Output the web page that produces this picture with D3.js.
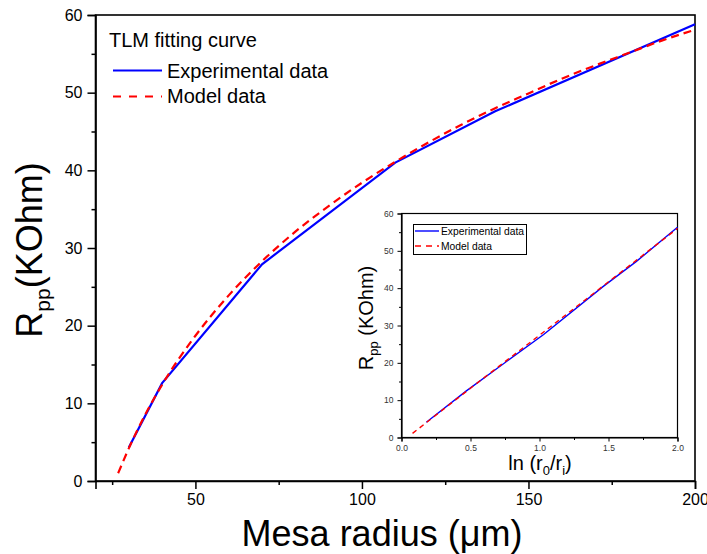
<!DOCTYPE html>
<html>
<head>
<meta charset="utf-8">
<script src="https://cdn.jsdelivr.net/npm/d3@7"></script>
<style>
  html, body { margin: 0; padding: 0; background: #fff; }
  svg { display: block; font-family: "Liberation Sans", Arial, sans-serif; }
</style>
</head>
<body>
<svg id="chart" width="707" height="554"></svg>
<script>
// ---------- Data ----------
// Main plot: experimental data (blue)
const expRadius = [30, 40, 70, 110, 140, 200];
const expRpp    = [4.3, 12.6, 27.9, 41.0, 47.6, 58.8];
// Main plot: model data (red dashed)
const modelRadius = [26.8, 30, 35, 40, 50, 60, 70, 80, 90, 100, 110, 120, 130, 140, 150, 160, 170, 180, 190, 200];
const modelRpp    = [1.0, 4.2, 8.6, 12.4, 18.7, 23.9, 28.3, 32.1, 35.4, 38.4, 41.1, 43.6, 45.9, 48.0, 49.9, 51.8, 53.5, 55.1, 56.7, 58.1];
// Inset: experimental vs ln(r0/ri)
const insetExpLn  = [0.18, 0.47, 1.03, 1.46, 1.70, 2.0];
const insetExpRpp = [4.1, 12.5, 27.6, 40.4, 47.1, 56.3];
// Inset: model
const insetModLn  = [0.08, 0.5, 1.0, 1.5, 2.0];
const insetModRpp = [1.1, 13.2, 27.4, 41.7, 56.0];
// Ticks
const mainXTicks = [50, 100, 150, 200];
const mainXMinor = [25, 75, 125, 175];
const mainYTicks = [0, 10, 20, 30, 40, 50, 60];
const mainYMinor = [5, 15, 25, 35, 45, 55];
const insetXTicks = [0, 0.5, 1.0, 1.5, 2.0];
const insetXMinor = [0.25, 0.75, 1.25, 1.75];
const insetYTicks = [0, 10, 20, 30, 40, 50, 60];
const insetYMinor = [5, 15, 25, 35, 45, 55];
// Labels
const legendTitle = "TLM fitting curve";
const seriesNames = ["Experimental data", "Model data"];

// ---------- Drawing ----------
const svg = d3.select("#chart");
const BLUE = "#0000ff", RED = "#ff0000";

function drawPanel(cfg) {
  const g = svg.append("g");
  const x = d3.scaleLinear().domain(cfg.xDomain).range([cfg.left, cfg.right]);
  const y = d3.scaleLinear().domain(cfg.yDomain).range([cfg.bottom, cfg.top]);

  // frame
  g.append("rect")
    .attr("x", cfg.left).attr("y", cfg.top)
    .attr("width", cfg.right - cfg.left).attr("height", cfg.bottom - cfg.top)
    .attr("fill", "none").attr("stroke", "#000").attr("stroke-width", cfg.frameW);

  // x axis
  const xa = g.append("g").attr("transform", `translate(0,${cfg.bottom})`)
    .call(d3.axisBottom(x).tickValues(cfg.xTicks).tickSize(cfg.majorLen)
      .tickPadding(cfg.xPad).tickFormat(cfg.xFmt));
  g.append("g").attr("transform", `translate(0,${cfg.bottom})`)
    .call(d3.axisBottom(x).tickValues(cfg.xMinor).tickSize(cfg.minorLen).tickFormat(""))
    .call(s => s.select(".domain").remove());
  // y axis
  const ya = g.append("g").attr("transform", `translate(${cfg.left},0)`)
    .call(d3.axisLeft(y).tickValues(cfg.yTicks).tickSize(cfg.majorLen)
      .tickPadding(cfg.yPad).tickFormat(d3.format("d")));
  g.append("g").attr("transform", `translate(${cfg.left},0)`)
    .call(d3.axisLeft(y).tickValues(cfg.yMinor).tickSize(cfg.minorLen).tickFormat(""))
    .call(s => s.select(".domain").remove());

  g.selectAll(".domain").attr("stroke-width", cfg.frameW);
  g.selectAll(".tick line").attr("stroke-width", cfg.tickW);
  g.selectAll(".tick text")
    .attr("font-family", '"Liberation Sans", Arial, sans-serif')
    .attr("font-size", cfg.tickFont).attr("fill", cfg.tickColor);

  const line = d3.line().x(d => x(d[0])).y(d => y(d[1]));
  const lineSmooth = d3.line().x(d => x(d[0])).y(d => y(d[1])).curve(d3.curveMonotoneX);

  g.append("path").datum(d3.zip(cfg.expX, cfg.expY))
    .attr("d", line).attr("fill", "none").attr("stroke", BLUE)
    .attr("stroke-width", cfg.lineW);
  g.append("path").datum(d3.zip(cfg.modX, cfg.modY))
    .attr("d", lineSmooth).attr("fill", "none").attr("stroke", RED)
    .attr("stroke-width", cfg.lineW).attr("stroke-dasharray", cfg.dash);
  return {g, x, y};
}

// Main panel
const main = drawPanel({
  left: 95.5, right: 695, top: 15, bottom: 481,
  xDomain: [20, 200], yDomain: [0, 60],
  xTicks: mainXTicks, xMinor: mainXMinor, yTicks: mainYTicks, yMinor: mainYMinor,
  xFmt: d3.format("d"),
  majorLen: 8, minorLen: 4, xPad: 5, yPad: 5,
  frameW: 1.6, tickW: 1.5, tickFont: 16, tickColor: "#000",
  expX: expRadius, expY: expRpp, modX: modelRadius, modY: modelRpp,
  lineW: 2.2, dash: "8,5"
});

// Main legend
svg.append("text").attr("x", 109).attr("y", 47).attr("font-size", 20).text(legendTitle);
svg.append("line").attr("x1", 113).attr("x2", 162).attr("y1", 70.5).attr("y2", 70.5)
  .attr("stroke", BLUE).attr("stroke-width", 2.2);
svg.append("text").attr("x", 167).attr("y", 77.5).attr("font-size", 20).text(seriesNames[0]);
svg.append("line").attr("x1", 113).attr("x2", 162).attr("y1", 96.5).attr("y2", 96.5)
  .attr("stroke", RED).attr("stroke-width", 2.2).attr("stroke-dasharray", "8,8");
svg.append("text").attr("x", 167).attr("y", 103).attr("font-size", 20).text(seriesNames[1]);

// Main axis titles
svg.append("text").attr("x", 382).attr("y", 546).attr("text-anchor", "middle")
  .attr("font-size", 36).text("Mesa radius (\u03bcm)");
const yt = svg.append("text").attr("transform", "translate(42,250) rotate(-90)")
  .attr("text-anchor", "middle").attr("font-size", 36);
yt.append("tspan").text("R");
yt.append("tspan").attr("dy", 8).attr("font-size", 21).text("pp");
yt.append("tspan").attr("dy", -8).text("(KOhm)");

// Inset panel
const inset = drawPanel({
  left: 401.5, right: 677.5, top: 213.5, bottom: 437.5,
  xDomain: [0, 2.0], yDomain: [0, 60],
  xTicks: insetXTicks, xMinor: insetXMinor, yTicks: insetYTicks, yMinor: insetYMinor,
  xFmt: d3.format(".1f"),
  majorLen: 4, minorLen: 2.5, xPad: 3, yPad: 4,
  frameW: 1.2, tickW: 1, tickFont: 8.5, tickColor: "#333",
  expX: insetExpLn, expY: insetExpRpp, modX: insetModLn, modY: insetModRpp,
  lineW: 1.4, dash: "5,4"
});

// Inset legend
svg.append("rect").attr("x", 413.5).attr("y", 224.5).attr("width", 113).attr("height", 30)
  .attr("fill", "#fff").attr("stroke", "#000").attr("stroke-width", 1);
svg.append("line").attr("x1", 415).attr("x2", 439).attr("y1", 231).attr("y2", 231)
  .attr("stroke", BLUE).attr("stroke-width", 1.4);
svg.append("text").attr("x", 441).attr("y", 235).attr("font-size", 10.3).text(seriesNames[0]);
svg.append("line").attr("x1", 415).attr("x2", 439).attr("y1", 246).attr("y2", 246)
  .attr("stroke", RED).attr("stroke-width", 1.4).attr("stroke-dasharray", "6,5");
svg.append("text").attr("x", 441).attr("y", 249.5).attr("font-size", 10.3).text(seriesNames[1]);

// Inset axis titles
const ixt = svg.append("text").attr("x", 540).attr("y", 470).attr("text-anchor", "middle")
  .attr("font-size", 20);
ixt.append("tspan").text("ln (r");
ixt.append("tspan").attr("dy", 5).attr("font-size", 13).text("0");
ixt.append("tspan").attr("dy", -5).text("/r");
ixt.append("tspan").attr("dy", 5).attr("font-size", 13).text("i");
ixt.append("tspan").attr("dy", -5).text(")");
const iyt = svg.append("text").attr("transform", "translate(373,318) rotate(-90)")
  .attr("text-anchor", "middle").attr("font-size", 20);
iyt.append("tspan").text("R");
iyt.append("tspan").attr("dy", 5).attr("font-size", 13).text("pp");
iyt.append("tspan").attr("dy", -5).text(" (KOhm)");
</script>
</body>
</html>
